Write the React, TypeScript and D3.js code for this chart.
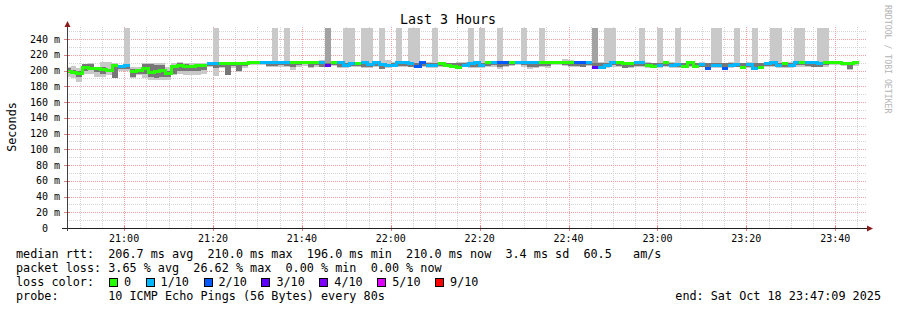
import React from 'react';
import * as d3 from 'd3';

const TITLE = 'Last 3 Hours';
const Y_LABEL = 'Seconds';
const WATERMARK = 'RRDTOOL / TOBI OETIKER';
const STEP_SECONDS = 80;
const END = new Date(2025, 9, 18, 23, 47, 9);
const START = new Date(END.getTime() - 3 * 3600 * 1000);
const FIRST_STEP = new Date(START.getTime() - 32 * 1000);
const Y_MAX = 254;

// median rtt per 80s step (ms)
const MEDIAN = [
  199, 197, 196, 204, 202, 203, 201, 200, 207, 205,
  206, 199, 200, 203, 197, 199, 200, 196, 205, 207,
  205, 205, 206, 207, 209, 209, 209, 209, 209, 209,
  209, 210, 210, 210, 210, 210, 210, 210, 210, 210,
  210, 210, 210, 210, 206, 210, 210, 207, 209, 209,
  210, 208, 210, 208, 207, 207, 210, 210, 209, 205,
  210, 206, 207, 209, 207, 205, 204, 206, 209, 210,
  206, 210, 210, 210, 210, 210, 210, 210, 210, 210,
  210, 210, 210, 210, 210, 210, 210, 210, 210, 204,
  204, 207, 210, 210, 209, 209, 210, 210, 207, 205,
  207, 210, 207, 208, 205, 210, 205, 208, 203, 206,
  206, 203, 206, 208, 204, 208, 203, 204, 209, 210,
  206, 209, 206, 210, 210, 210, 210, 209, 210, 210,
  210, 209, 209, 210,
];
// lost pings out of 10 per step
const LOSS = [
  0, 0, 0, 0, 0, 0, 0, 0, 0, 1,
  1, 0, 0, 0, 0, 0, 0, 0, 0, 0,
  0, 0, 0, 0, 1, 1, 0, 0, 0, 0,
  0, 0, 0, 1, 1, 1, 1, 1, 0, 0,
  0, 0, 0, 1, 3, 0, 1, 1, 1, 0,
  1, 1, 1, 1, 1, 1, 1, 1, 1, 2,
  2, 1, 1, 0, 0, 0, 0, 1, 1, 1,
  1, 0, 1, 2, 2, 0, 1, 1, 1, 1,
  0, 0, 0, 0, 0, 0, 2, 2, 1, 3,
  1, 1, 1, 0, 0, 0, 1, 1, 0, 0,
  1, 0, 1, 1, 0, 0, 0, 1, 2, 1,
  1, 2, 1, 1, 0, 1, 1, 0, 1, 1,
  1, 0, 1, 1, 0, 1, 1, 1, 0, 0,
  0, 0, 0, 0,
];
// smoke: fastest ping (ms)
const SMOKE_LO = [
  192, 191, 186, 196, 195, 192, 192, 194, 190, 200,
  199, 190, 194, 190, 188, 188, 188, 188, 194, 196,
  194, 194, 194, 196, 204, 193, 203, 194, 203, 198,
  203, 207, 207, 207, 204, 204, 205, 205, 201, 204,
  206, 203, 205, 204, 204, 206, 203, 203, 204, 205,
  203, 203, 204, 202, 203, 204, 204, 204, 204, 203,
  204, 203, 203, 204, 204, 203, 203, 204, 203, 203,
  203, 204, 205, 202, 204, 206, 207, 204, 202, 203,
  204, 203, 207, 207, 206, 205, 204, 204, 206, 203,
  203, 203, 205, 204, 203, 203, 205, 204, 203, 203,
  203, 204, 203, 203, 203, 204, 203, 204, 202, 203,
  203, 202, 203, 204, 203, 203, 202, 203, 205, 204,
  203, 203, 203, 205, 205, 205, 204, 204, 205, 207,
  207, 206, 201, 206,
];
// smoke: slowest ping (ms); values above the chart run off the top
const SMOKE_HI = [
  205, 206, 203, 208, 209, 205, 211, 211, 210, 206,
  300, 204, 205, 209, 209, 209, 209, 205, 209, 211,
  210, 210, 209, 209, 210, 300, 210, 210, 210, 210,
  210, 211, 211, 211, 211, 300, 211, 300, 211, 211,
  211, 211, 211, 213, 300, 211, 211, 300, 300, 211,
  300, 300, 211, 300, 213, 211, 300, 211, 300, 300,
  211, 211, 300, 211, 210, 210, 211, 211, 300, 211,
  300, 211, 211, 300, 211, 211, 211, 300, 211, 211,
  300, 211, 211, 211, 214, 213, 211, 211, 211, 300,
  211, 300, 300, 211, 211, 211, 211, 300, 211, 210,
  300, 211, 211, 300, 210, 211, 210, 211, 210, 300,
  300, 210, 211, 300, 210, 211, 300, 210, 211, 300,
  300, 211, 211, 300, 300, 211, 211, 300, 300, 211,
  211, 211, 211, 211,
];
// dense smoke core (ms)
const CORE_LO = [
  197, 195, 192, 200, 202, 198, 196, 198, 190, 202,
  202, 192, 196, 196, 192, 190, 192, 192, 196, 200,
  200, 200, 200, 201, 206, 203, 205, 194, 206, 200,
  206, 208, 208, 208, 206, 206, 207, 206, 204, 207,
  208, 204, 207, 205, 204, 207, 204, 205, 206, 206,
  205, 204, 206, 202, 205, 205, 206, 206, 205, 203,
  206, 204, 205, 206, 205, 204, 204, 204, 205, 204,
  204, 206, 207, 205, 206, 207, 208, 207, 204, 205,
  206, 206, 208, 208, 207, 206, 206, 205, 207, 203,
  204, 205, 207, 206, 203, 204, 206, 206, 204, 204,
  204, 206, 204, 205, 204, 206, 204, 205, 204, 205,
  205, 203, 205, 205, 205, 205, 204, 205, 206, 206,
  204, 204, 204, 207, 207, 206, 205, 205, 207, 208,
  208, 207, 202, 208,
];
const CORE_HI = [
  203, 201, 199, 208, 208, 204, 205, 202, 208, 205,
  206, 202, 200, 208, 208, 207, 207, 200, 207, 210,
  208, 207, 207, 208, 209, 208, 209, 209, 209, 207,
  209, 210, 210, 210, 209, 209, 210, 210, 209, 210,
  210, 208, 210, 210, 210, 210, 209, 209, 209, 209,
  209, 208, 209, 210, 208, 209, 209, 209, 209, 209,
  210, 209, 209, 209, 209, 209, 209, 210, 209, 209,
  209, 209, 210, 209, 210, 210, 210, 210, 209, 209,
  209, 210, 210, 210, 210, 210, 210, 209, 210, 210,
  209, 209, 210, 210, 209, 209, 210, 210, 209, 209,
  209, 210, 209, 209, 209, 210, 209, 209, 209, 209,
  209, 209, 209, 209, 209, 209, 209, 209, 210, 210,
  209, 209, 209, 210, 210, 210, 209, 209, 210, 210,
  210, 210, 207, 210,
];

const Y_MAJOR = [0, 20, 40, 60, 80, 100, 120, 140, 160, 180, 200, 220, 240];
const Y_MINOR = [10, 30, 50, 70, 90, 110, 130, 150, 170, 190, 210, 230, 250];

const LOSS_LEVELS = [0, 1, 2, 3, 4, 5, 9];
const LOSS_LABELS = ['0', '1/10', '2/10', '3/10', '4/10', '5/10', '9/10'];
const LOSS_COLORS = ['#26ff00', '#00b8ff', '#0059ff', '#5e00ff', '#7e00ff', '#dd00ff', '#ff0000'];

const LEGEND_MEDIAN = 'median rtt:  206.7 ms avg  210.0 ms max  196.0 ms min  210.0 ms now  3.4 ms sd  60.5   am/s';
const LEGEND_LOSS = 'packet loss: 3.65 % avg  26.62 % max  0.00 % min  0.00 % now';
const LEGEND_COLOR = 'loss color:';
const LEGEND_PROBE = 'probe:       10 ICMP Echo Pings (56 Bytes) every 80s';
const LEGEND_END = 'end: Sat Oct 18 23:47:09 2025';

const W = 897;
const H = 310;
const L = 67;
const R = 867;
const T = 28;
const B = 228;
const MONO = '"DejaVu Sans Mono", monospace';
const CW = 7.1;
const LFS = CW / 0.6021;

const pre = (s: string) => s.replace(/ /g, '\u00a0');

function lossColor(n: number) {
  let idx = 0;
  LOSS_LEVELS.forEach((lv, i) => {
    if (n >= lv) idx = i;
  });
  return LOSS_COLORS[idx];
}

export default function App() {
  const x = d3.scaleTime().domain([START, END]).range([L, R]);
  const y = d3.scaleLinear().domain([0, Y_MAX]).range([B, T]).clamp(true);
  const stepStart = (k: number) => new Date(FIRST_STEP.getTime() + k * STEP_SECONDS * 1000);
  const px = (k: number) => Math.round(x(stepStart(k)));

  const minorTimes = d3.timeMinute.every(5)!.range(START, END);
  const majorTimes = minorTimes.filter((d) => d.getMinutes() % 20 === 0);
  const fmt = d3.timeFormat('%H:%M');

  const runs: { color: string; pts: [number, number][] }[] = [];
  MEDIAN.forEach((m, k) => {
    const c = lossColor(LOSS[k]);
    const last = runs[runs.length - 1];
    const p0: [number, number] = [px(k), y(m)];
    const p1: [number, number] = [px(k + 1), y(m)];
    if (last && last.color === c) {
      last.pts.push(p0, p1);
    } else {
      runs.push({ color: c, pts: [p0, p1] });
    }
  });
  const line = d3.line<[number, number]>().x((d) => d[0]).y((d) => d[1]);

  const boxes: { x: number; label: string; color: string }[] = [];
  let tx = 16 + 13 * CW + 15.7;
  LOSS_LABELS.forEach((lab, i) => {
    boxes.push({ x: tx, label: lab, color: LOSS_COLORS[i] });
    tx += lab.length * CW + 29.5;
  });

  return (
    <svg width={W} height={H} style={{ position: 'absolute', left: 0, top: 0, display: 'block', background: '#fff' }}>
      <defs>
        <clipPath id="plot">
          <rect x={L} y={T - 2} width={R - L} height={B - T + 2} />
        </clipPath>
      </defs>
      <rect x={0} y={0} width={W} height={H} fill="#fff" />

      <g shapeRendering="crispEdges" strokeWidth={1} strokeDasharray="1 1">
        {Y_MINOR.map((v) => (
          <line key={'ym' + v} x1={L} x2={R} y1={Math.round(y(v)) + 0.5} y2={Math.round(y(v)) + 0.5} stroke="#d4d4d4" />
        ))}
        {minorTimes.filter((d) => d.getMinutes() % 20 !== 0).map((d) => (
          <line key={'xm' + d.getTime()} x1={Math.round(x(d)) + 0.5} x2={Math.round(x(d)) + 0.5} y1={B} y2={T - 2} stroke="#d4d4d4" />
        ))}
        {Y_MAJOR.filter((v) => v > 0).map((v) => (
          <line key={'yM' + v} x1={L} x2={R} y1={Math.round(y(v)) + 0.5} y2={Math.round(y(v)) + 0.5} stroke="#f0a0a0" />
        ))}
        {majorTimes.map((d) => (
          <line key={'xM' + d.getTime()} x1={Math.round(x(d)) + 0.5} x2={Math.round(x(d)) + 0.5} y1={B} y2={T - 2} stroke="#f0a0a0" />
        ))}
      </g>

      <g clipPath="url(#plot)" shapeRendering="crispEdges">
        {MEDIAN.map((_, k) => {
          const x0 = px(k);
          const x1 = px(k + 1);
          const spikeShade = LOSS[k] >= 3 ? '#a2a2a2' : '#c9c9c9';
          return (
            <g key={'s' + k}>
              <rect x={x0} width={x1 - x0} y={y(SMOKE_HI[k])} height={y(SMOKE_LO[k]) - y(SMOKE_HI[k])} fill={spikeShade} />
              <rect x={x0} width={x1 - x0} y={y(CORE_HI[k])} height={y(CORE_LO[k]) - y(CORE_HI[k])} fill="#777777" />
            </g>
          );
        })}
        {runs.map((r, i) => (
          <path key={'m' + i} d={line(r.pts) || ''} fill="none" stroke={r.color} strokeWidth={3} />
        ))}
      </g>

      <g shapeRendering="crispEdges">
        {Y_MAJOR.map((v) => (
          <line key={'yt' + v} x1={L - 3} x2={L + 3} y1={Math.round(y(v)) + 0.5} y2={Math.round(y(v)) + 0.5} stroke="#e08080" />
        ))}
        {majorTimes.map((d) => (
          <line key={'xt' + d.getTime()} x1={Math.round(x(d)) + 0.5} x2={Math.round(x(d)) + 0.5} y1={B - 2} y2={B + 3} stroke="#e08080" />
        ))}
        <line x1={L - 5} x2={R + 1} y1={B + 0.5} y2={B + 0.5} stroke="#202020" />
        <line x1={L + 0.5} x2={L + 0.5} y1={B + 3} y2={T - 2} stroke="#404040" />
      </g>
      <path d={`M${L + 0.5},${T - 7} L${L - 2.5},${T - 1} L${L + 3.5},${T - 1} Z`} fill="#8a1c1c" />
      <path d={`M${R + 6},${B + 0.5} L${R},${B - 2.5} L${R},${B + 3.5} Z`} fill="#8a1c1c" />

      <g fontFamily={MONO} fontSize={10} fill="#000">
        {Y_MAJOR.map((v) => (
          <text key={'yl' + v} x={v === 0 ? 48 : 60} y={y(v) + 3.5} textAnchor="end">
            {v === 0 ? '0' : pre(`${v} m`)}
          </text>
        ))}
        {majorTimes.map((d) => (
          <text key={'xl' + d.getTime()} x={x(d)} y={241.5} textAnchor="middle">
            {fmt(d)}
          </text>
        ))}
      </g>

      <text x={448} y={24} textAnchor="middle" fontFamily={MONO} fontSize={13.3} fill="#000">{pre(TITLE)}</text>
      <text transform="translate(15.5,127) rotate(-90)" textAnchor="middle" fontFamily={MONO} fontSize={LFS} fill="#000">{Y_LABEL}</text>
      <text transform="translate(885,5) rotate(90)" fontFamily={MONO} fontSize={8.2} fill="#b4b4b4">{pre(WATERMARK)}</text>

      <g fontFamily={MONO} fontSize={LFS} fill="#000">
        <text x={16} y={258}>{pre(LEGEND_MEDIAN)}</text>
        <text x={16} y={272}>{pre(LEGEND_LOSS)}</text>
        <text x={16} y={286}>{pre(LEGEND_COLOR)}</text>
        <text x={16} y={300}>{pre(LEGEND_PROBE)}</text>
        <text x={881} y={300} textAnchor="end">{pre(LEGEND_END)}</text>
        {boxes.map((b) => (
          <g key={'lb' + b.label}>
            <rect x={b.x - 14.5} y={278.5} width={8} height={8} fill={b.color} stroke="#000" strokeWidth={1} shapeRendering="crispEdges" />
            <text x={b.x} y={286}>{b.label}</text>
          </g>
        ))}
      </g>
    </svg>
  );
}
